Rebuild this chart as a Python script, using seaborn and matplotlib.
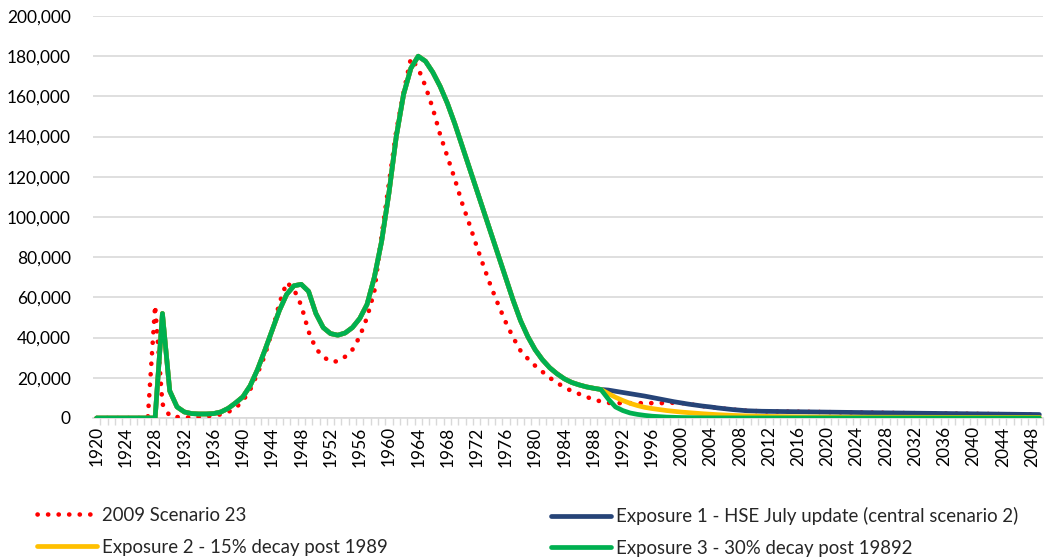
import matplotlib
matplotlib.use("Agg")
import matplotlib.pyplot as plt
from matplotlib.ticker import FuncFormatter, MultipleLocator, FixedLocator
import pandas as pd
import seaborn as sns

# Years on the category axis
years = list(range(1920, 2050))

# 2009 Scenario 23 (1920-2049)
scenario_2009 = [
    0, 0, 0, 0, 0, 0, 0, 0, 56000, 7000,                                   # 1920-1929
    1000, 500, 300, 300, 500, 800, 1200, 1800, 3000, 5000,                 # 1930-1939
    8500, 14000, 22000, 31000, 43000, 57000, 67500, 64000, 56000, 43000,   # 1940-1949
    34500, 30500, 28000, 28200, 30500, 34000, 40500, 50000, 63000, 91000,  # 1950-1959
    117000, 143000, 162000, 179000, 174000, 165000, 154000, 141000, 130000, 119000,  # 1960-1969
    107000, 96500, 85500, 75000, 65000, 56000, 47500, 40000, 33500, 29500,  # 1970-1979
    26000, 23000, 20000, 17500, 15300, 13400, 12000, 10500, 9300, 8200,   # 1980-1989
    7500, 7400, 7400, 7400, 7400, 7400, 7400, 7400, 7400, 7600,           # 1990-1999
    7500, 6900, 6400, 5900, 5500, 5000, 4600, 4200, 3900, 3600,           # 2000-2009
    3450, 3350, 3300, 3250, 3200, 3150, 3100, 3050, 3000, 2950,           # 2010-2019
    2900, 2850, 2800, 2760, 2720, 2680, 2640, 2600, 2560, 2520,           # 2020-2029
    2480, 2440, 2400, 2360, 2320, 2280, 2240, 2200, 2160, 2120,           # 2030-2039
    2080, 2040, 2000, 1960, 1920, 1880, 1840, 1800, 1760, 1720,           # 2040-2049
]

# Shared exposure history, 1920-1989
exposure_history = [
    0, 0, 0, 0, 0, 0, 0, 0, 0, 52000,                                      # 1920-1929
    13500, 5500, 3000, 2200, 2000, 2000, 2200, 3000, 4800, 7500,           # 1930-1939
    10500, 16000, 24000, 33500, 43500, 53500, 61500, 65800, 66500, 63000,  # 1940-1949
    52000, 45000, 42000, 41200, 42300, 45000, 49500, 56500, 70000, 88000,  # 1950-1959
    112000, 140000, 161000, 174000, 180000, 177500, 172000, 165000, 156500, 146500,  # 1960-1969
    135500, 124500, 113500, 102500, 91500, 80500, 69500, 58500, 48500, 40500,  # 1970-1979
    34000, 29000, 25000, 22000, 19500, 17700, 16500, 15500, 14800, 14200,  # 1980-1989
]

# Projections after 1989 (1990-2049)
exposure1_tail = [
    13900, 13300, 12700, 12100, 11500, 10900, 10200, 9500, 8800, 8100,
    7500, 6900, 6400, 5900, 5500, 5000, 4600, 4200, 3900, 3600,
    3450, 3350, 3300, 3250, 3200, 3150, 3100, 3050, 3000, 2950,
    2900, 2850, 2800, 2760, 2720, 2680, 2640, 2600, 2560, 2520,
    2480, 2440, 2400, 2360, 2320, 2280, 2240, 2200, 2160, 2120,
    2080, 2040, 2000, 1960, 1920, 1880, 1840, 1800, 1760, 1720,
]
exposure2_tail = [
    12200, 10300, 8700, 7300, 6200, 5300, 4700, 4200, 3700, 3300,
    2950, 2650, 2350, 2100, 1850, 1650, 1450, 1300, 1150, 1050,
    950, 850, 780, 720, 660, 610, 570, 530, 500, 470,
    450, 440, 430, 420, 410, 400, 390, 380, 370, 360,
    350, 345, 340, 335, 330, 325, 320, 315, 310, 305,
    300, 300, 300, 300, 300, 300, 300, 300, 300, 300,
]
exposure3_tail = [
    9500, 5500, 3700, 2500, 1800, 1300, 900, 650, 450, 320,
    230, 170, 120, 90, 70, 50, 40, 30, 25, 20,
    15, 12, 10, 8, 6, 5, 4, 3, 2, 2,
    1, 1, 1, 1, 1, 1, 1, 1, 1, 1,
    0, 0, 0, 0, 0, 0, 0, 0, 0, 0,
    0, 0, 0, 0, 0, 0, 0, 0, 0, 0,
]

labels = [
    "2009 Scenario 23",
    "Exposure 1 - HSE July update (central scenario 2)",
    "Exposure 2 - 15% decay post 1989",
    "Exposure 3 - 30% decay post 19892",
]
colors = ["#FF0000", "#264478", "#FFC000", "#00B050"]

series = {
    labels[0]: scenario_2009,
    labels[1]: exposure_history + exposure1_tail,
    labels[2]: exposure_history + exposure2_tail,
    labels[3]: exposure_history + exposure3_tail,
}

sns.set_theme(style="white")
plt.rcParams["font.family"] = ["Lato", "DejaVu Sans"]

W, H = 1047, 560
fig = plt.figure(figsize=(W / 100, H / 100), dpi=100)
ax = fig.add_axes([93 / W, 1 - 418 / H, (1043 - 93) / W, (418 - 16) / H])

handles = {}
for (name, vals), col in zip(series.items(), colors):
    df = pd.DataFrame({"year": years, "value": vals})
    if name == labels[0]:
        sns.lineplot(data=df, x="year", y="value", ax=ax, color=col, lw=3.3,
                     linestyle=(0, (0.05, 2.25)), dash_capstyle="round",
                     label=name, legend=False)
    else:
        sns.lineplot(data=df, x="year", y="value", ax=ax, color=col, lw=3.4,
                     solid_capstyle="round", solid_joinstyle="round",
                     label=name, legend=False)
    handles[name] = ax.lines[-1]

# Axes styling
ax.set_xlim(1919.5, 2049.5)
ax.set_ylim(0, 200000)
ax.yaxis.set_major_locator(MultipleLocator(20000))
ax.yaxis.set_major_formatter(FuncFormatter(lambda v, p: f"{int(v):,}"))
ax.grid(axis="y", color="#D9D9D9", lw=1.2)
ax.grid(axis="x", visible=False)
ax.set_axisbelow(True)
for s in ["left", "top", "right"]:
    ax.spines[s].set_visible(False)
ax.spines["bottom"].set_color("#D9D9D9")
ax.spines["bottom"].set_linewidth(1.2)
ax.spines["bottom"].set_zorder(0.5)

ax.xaxis.set_major_locator(FixedLocator(years[::4]))
ax.xaxis.set_minor_locator(FixedLocator([y + 0.5 for y in years]))
ax.tick_params(axis="x", which="major", length=0, pad=6, labelsize=12.5,
               rotation=90, labelcolor="#000000")
ax.tick_params(axis="x", which="minor", length=5, width=1, color="#D9D9D9",
               bottom=True)
ax.tick_params(axis="y", length=0, pad=16, labelsize=12.5, labelcolor="#000000")
ax.set_xlabel("")
ax.set_ylabel("")

# Two-column legend below the plot
common = dict(frameon=False, loc="upper left", borderaxespad=0, borderpad=0,
              handlelength=3.2, handletextpad=0.3, labelspacing=0.8,
              fontsize=13.4)
leg1 = fig.legend([handles[labels[0]], handles[labels[2]]],
                  [labels[0], labels[2]],
                  bbox_to_anchor=(37 / W, 1 - 507 / H), **common)
leg2 = fig.legend([handles[labels[1]], handles[labels[3]]],
                  [labels[1], labels[3]],
                  bbox_to_anchor=(551 / W, 1 - 507 / H), **common)

fig.savefig("out.png", dpi=100)
